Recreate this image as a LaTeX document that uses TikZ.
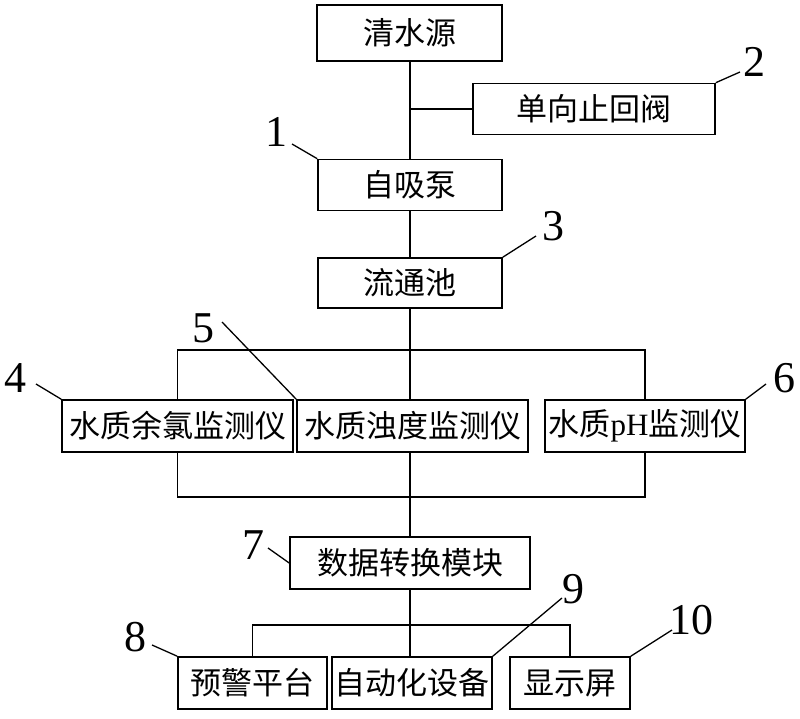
\documentclass[tikz,border=0pt]{standalone}
\usepackage{fontspec}
\setmainfont{Liberation Serif}
\newfontfamily\cjk{Noto Sans CJK SC}
\begin{document}
\begin{tikzpicture}[x=1pt,y=-1pt,
  box/.style={draw,line width=1.6pt,inner sep=0pt,font=\cjk\fontsize{31}{31}\selectfont},
  conn/.style={line width=1.6pt},
  leader/.style={line width=1.3pt},
  num/.style={inner sep=0pt,font=\fontsize{44}{44}\selectfont}]
\useasboundingbox (0,0) rectangle (800,719);
% boxes
\node[box,minimum width=185,minimum height=56] (src) at (409.5,33) {清水源};
\node[box,minimum width=242,minimum height=51] (valve) at (594,109) {单向止回阀};
\node[box,minimum width=184,minimum height=51] (pump) at (410,185) {自吸泵};
\node[box,minimum width=184,minimum height=50] (cell) at (410,283) {流通池};
\node[box,minimum width=231,minimum height=52] (m1) at (177.5,426) {水质余氯监测仪};
\node[box,minimum width=231,minimum height=52] (m2) at (412.5,426) {水质浊度监测仪};
\node[box,minimum width=200,minimum height=52] (m3) at (645,426) {水质{\rmfamily pH}监测仪};
\node[box,minimum width=240,minimum height=52] (conv) at (410,563) {数据转换模块};
\node[box,minimum width=149,minimum height=52] (o1) at (252.5,683) {预警平台};
\node[box,minimum width=160,minimum height=52] (o2) at (412,683) {自动化设备};
\node[box,minimum width=120,minimum height=52] (o3) at (570,683) {显示屏};
% bus coordinates
\coordinate (busA) at (410,350);
\coordinate (busB) at (410,497);
\coordinate (busC) at (410,625);
% connectors
\draw[conn] (valve.west) -- (valve.west -| pump.north);
\draw[conn] (src.south -| pump.north) -- (pump.north);
\draw[conn] (pump.south) -- (cell.north);
\draw[conn] (cell.south) -- (m2.north -| cell.south);
\draw[conn] (m1.north) |- (busA) -| (m3.north);
\draw[conn] (m1.south) |- (busB) -| (m3.south);
\draw[conn] (m2.south -| conv.north) -- (conv.north);
\draw[conn] (conv.south) -- (o2.north -| conv.south);
\draw[conn] (o1.north) |- (busC) -| (o3.north);
% labels
\node[num] (l1) at (276,132) {1};
\node[num] (l2) at (754,62) {2};
\node[num] (l3) at (553,226) {3};
\node[num] (l4) at (16,378) {4};
\node[num] (l5) at (203,328) {5};
\node[num] (l6) at (784,378) {6};
\node[num] (l7) at (253,545) {7};
\node[num] (l8) at (135,637) {8};
\node[num] (l9) at (573,589) {9};
\node[num] (l10) at (691,620) {10};
\coordinate (a1) at (292,144);
\coordinate (a2) at (740,72);
\coordinate (a3) at (536,236);
\coordinate (a4) at (36,384);
\coordinate (a5) at (222,322);
\coordinate (a6) at (766,384);
\coordinate (a7) at (268,548);
\coordinate (a8) at (152,645);
\coordinate (a9) at (562,598);
\coordinate (a10) at (672,630);
\draw[leader] (a1) -- (pump.north west);
\draw[leader] (a2) -- (valve.north east);
\draw[leader] (a3) -- (cell.north east);
\draw[leader] (a4) -- (m1.north west);
\draw[leader] (a5) -- (m2.north west);
\draw[leader] (a6) -- (m3.north east);
\draw[leader] (a7) -- (conv.west);
\draw[leader] (a8) -- (o1.north west);
\draw[leader] (a9) -- (o2.north east);
\draw[leader] (a10) -- (o3.north east);
\end{tikzpicture}
\end{document}
